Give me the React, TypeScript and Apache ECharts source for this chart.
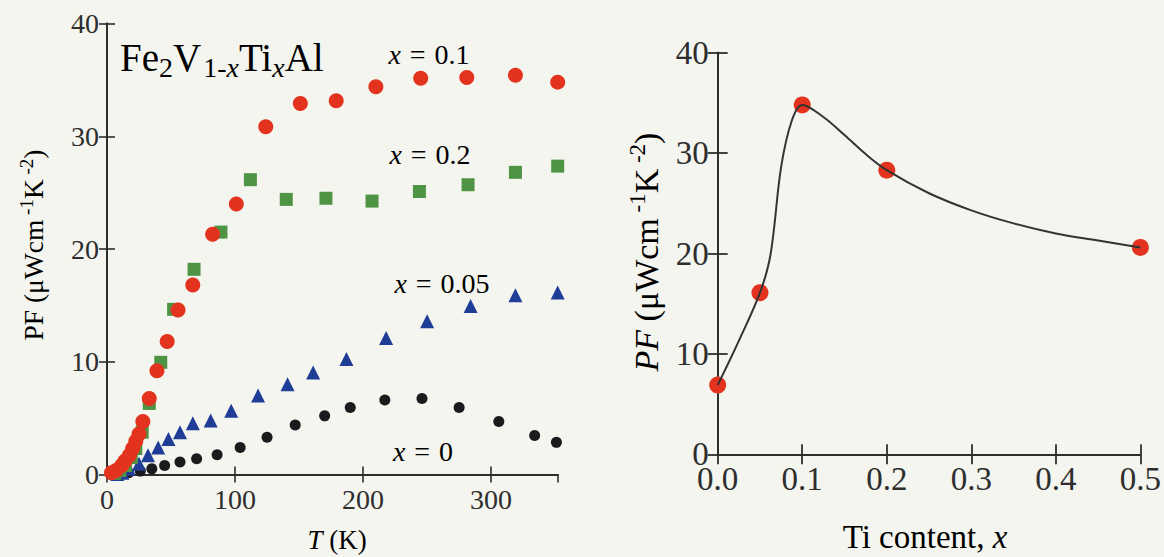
import React, { useEffect, useRef } from 'react';
import * as echarts from 'echarts';

// ---- Left panel: PF vs T for Fe2V(1-x)Ti(x)Al ----
const tempX0 = [5, 10, 17, 26, 35, 45, 57, 70, 86, 104, 125, 147, 170, 190, 217, 246, 275, 306, 334, 351];
const pfX0 = [0.02, 0.05, 0.15, 0.3, 0.5, 0.8, 1.1, 1.4, 1.75, 2.4, 3.3, 4.4, 5.2, 5.95, 6.6, 6.75, 5.95, 4.7, 3.45, 2.85];

const tempX005 = [8, 12, 17, 25, 32, 40, 48, 57, 67, 81, 97, 118, 141, 161, 187, 218, 250, 284, 319, 352];
const pfX005 = [0.05, 0.15, 0.5, 0.95, 1.7, 2.4, 3.15, 3.75, 4.55, 4.8, 5.65, 7.0, 8.0, 9.05, 10.25, 12.1, 13.6, 14.95, 15.9, 16.15];

const tempX02 = [6, 10, 14.5, 19, 22.5, 27.5, 33, 42, 52, 68, 89, 112, 140, 171, 207, 244, 282, 319, 352];
const pfX02 = [0.1, 0.35, 0.8, 1.5, 2.3, 3.75, 6.3, 9.95, 14.65, 18.2, 21.5, 26.15, 24.4, 24.5, 24.25, 25.1, 25.7, 26.8, 27.35];

const tempX01 = [3.5, 7, 11.5, 14, 17.5, 20, 22.5, 25, 28, 33, 39, 47, 55.5, 67, 82.5, 101, 124, 151, 179, 210, 245, 281, 319, 352];
const pfX01 = [0.15, 0.35, 0.8, 1.2, 1.7, 2.3, 2.95, 3.6, 4.7, 6.75, 9.2, 11.8, 14.6, 16.8, 21.3, 24.0, 30.85, 32.9, 33.15, 34.4, 35.15, 35.2, 35.4, 34.8];

const seriesLabels = ['0.1', '0.2', '0.05', '0'];

// ---- Right panel: PF vs Ti content ----
const tiContent = [0, 0.05, 0.1, 0.2, 0.5];
const pfByContent = [6.9, 16.1, 34.8, 28.3, 20.6];
const curveX = [0, 0.025, 0.05, 0.0625, 0.075, 0.0875, 0.1, 0.125, 0.15, 0.175, 0.2, 0.25, 0.3, 0.35, 0.4, 0.45, 0.5];
const curveY = [6.9, 11.3, 16.1, 19.9, 28.6, 33.2, 34.8, 33.6, 31.8, 29.9, 28.3, 26.0, 24.3, 23.0, 22.0, 21.3, 20.6];

const serif = '"Liberation Serif", "DejaVu Serif", "Times New Roman", serif';
const ink = '#2e2e2e';

const pairs = (xs: number[], ys: number[]) => xs.map((x, i) => [x, ys[i]]);

export default function App() {
  const ref = useRef<HTMLDivElement>(null);

  useEffect(() => {
    const chart = echarts.init(ref.current!, null, { renderer: 'svg' });

    const axisLine = { show: true, lineStyle: { color: ink, width: 2 } };
    const tickL = { show: true, inside: true, length: 8, lineStyle: { color: ink, width: 1.6 } };
    const tickR = { show: true, inside: true, length: 10, lineStyle: { color: ink, width: 1.8 } };
    const noLabel = { show: false };
    const noSplit = { show: false };

    const labelL = { color: ink, fontFamily: serif, fontSize: 28 };
    const labelR = { color: ink, fontFamily: serif, fontSize: 33, lineHeight: 24 };

    const supRich = (size: number, lh: number) => ({
      n: { fontFamily: serif, fontSize: size, color: ink, lineHeight: lh },
      i: { fontFamily: serif, fontSize: size, color: ink, fontStyle: 'italic', lineHeight: lh },
      sup: { fontFamily: serif, fontSize: Math.round(size * 0.68), color: ink, verticalAlign: 'top', lineHeight: Math.round(size * 0.62) },
    });

    const option: any = {
      animation: false,
      backgroundColor: '#f4f5ef',
      grid: [
        { left: 107, top: 23.5, width: 450.7, height: 451 },
        { left: 717.7, top: 52.7, width: 423.8, height: 401.6 },
      ],
      xAxis: [
        {
          gridIndex: 0, type: 'value', position: 'bottom', min: 0, max: 352, interval: 100,
          axisLine, axisTick: tickL, splitLine: noSplit,
          axisLabel: { ...labelL, margin: 11, showMaxLabel: false, formatter: (v: number) => (v % 100 === 0 ? String(v) : '') },
        },
        {
          gridIndex: 0, type: 'value', position: 'top', min: 0, max: 352, interval: 100,
          axisLine, axisTick: tickL, splitLine: noSplit, axisLabel: noLabel,
        },
        {
          gridIndex: 1, type: 'value', position: 'bottom', min: 0, max: 0.5, interval: 0.1,
          axisLine, axisTick: tickR, splitLine: noSplit,
          axisLabel: { ...labelR, margin: 13, formatter: (v: number) => v.toFixed(1) },
        },
        {
          gridIndex: 1, type: 'value', position: 'top', min: 0, max: 0.5, interval: 0.1,
          axisLine, axisTick: tickR, splitLine: noSplit, axisLabel: noLabel,
        },
      ],
      yAxis: [
        {
          gridIndex: 0, type: 'value', position: 'left', min: 0, max: 40, interval: 10,
          axisLine, axisTick: tickL, splitLine: noSplit, axisLabel: { ...labelL, margin: 8 },
        },
        {
          gridIndex: 0, type: 'value', position: 'right', min: 0, max: 40, interval: 10,
          axisLine, axisTick: tickL, splitLine: noSplit, axisLabel: noLabel,
        },
        {
          gridIndex: 1, type: 'value', position: 'left', min: 0, max: 40, interval: 10,
          axisLine, axisTick: tickR, splitLine: noSplit, axisLabel: { ...labelR, margin: 9 },
        },
        {
          gridIndex: 1, type: 'value', position: 'right', min: 0, max: 40, interval: 10,
          axisLine, axisTick: tickR, splitLine: noSplit, axisLabel: noLabel,
        },
      ],
      series: [
        {
          name: 'x = ' + seriesLabels[3], type: 'scatter', xAxisIndex: 0, yAxisIndex: 0,
          symbol: 'circle', symbolSize: 11, itemStyle: { color: '#1b1b1d', opacity: 1 },
          data: pairs(tempX0, pfX0),
        },
        {
          name: 'x = ' + seriesLabels[2], type: 'scatter', xAxisIndex: 0, yAxisIndex: 0,
          symbol: 'triangle', symbolSize: 14, itemStyle: { color: '#1f3d97', opacity: 1 },
          data: pairs(tempX005, pfX005),
        },
        {
          name: 'x = ' + seriesLabels[1], type: 'scatter', xAxisIndex: 0, yAxisIndex: 0,
          symbol: 'rect', symbolSize: 13, itemStyle: { color: '#4f9445', opacity: 1 },
          data: pairs(tempX02, pfX02),
        },
        {
          name: 'x = ' + seriesLabels[0], type: 'scatter', xAxisIndex: 0, yAxisIndex: 0,
          symbol: 'circle', symbolSize: 15, itemStyle: { color: '#e3331f', opacity: 1 },
          data: pairs(tempX01, pfX01),
        },
        {
          name: 'guide', type: 'line', xAxisIndex: 2, yAxisIndex: 2,
          smooth: 0.35, showSymbol: false, symbol: 'none',
          lineStyle: { color: '#333', width: 2 },
          data: pairs(curveX, curveY),
        },
        {
          name: 'PF', type: 'scatter', xAxisIndex: 2, yAxisIndex: 2,
          symbol: 'circle', symbolSize: 17, itemStyle: { color: '#e3331f', opacity: 1 },
          data: pairs(tiContent, pfByContent),
        },
      ],
      graphic: [
        {
          type: 'text', x: 120, y: 57,
          style: {
            text: '{m|Fe}{s|2}{m|V}{sp|1-}{si|x}{m|Ti}{si|x}{m|Al}',
            align: 'left', verticalAlign: 'middle',
            rich: {
              m: { fontFamily: serif, fontSize: 39, color: ink, lineHeight: 48 },
              s: { fontFamily: serif, fontSize: 28, color: ink, verticalAlign: 'bottom', lineHeight: 24 },
              sp: { fontFamily: serif, fontSize: 28, color: ink, verticalAlign: 'bottom', lineHeight: 24, padding: [0, 0, 0, 2] },
              si: { fontFamily: serif, fontSize: 28, color: ink, fontStyle: 'italic', verticalAlign: 'bottom', lineHeight: 24 },
            },
          },
        },
        ...[
          { t: seriesLabels[0], x: 429, y: 54 },
          { t: seriesLabels[1], x: 430, y: 154 },
          { t: seriesLabels[2], x: 442, y: 283 },
          { t: seriesLabels[3], x: 423, y: 451 },
        ].map((d) => ({
          type: 'text', x: d.x, y: d.y,
          style: {
            text: '{i|x}{e|=}{n|' + d.t + '}',
            align: 'center', verticalAlign: 'middle',
            rich: {
              n: { fontFamily: serif, fontSize: 28, color: ink },
              e: { fontFamily: serif, fontSize: 28, color: ink, padding: [0, 9, 0, 9] },
              i: { fontFamily: serif, fontSize: 28, color: ink, fontStyle: 'italic' },
            },
          },
        })),
        {
          type: 'text', x: 337, y: 540,
          style: {
            text: '{i|T}{n| (K)}', align: 'center', verticalAlign: 'middle',
            rich: {
              n: { fontFamily: serif, fontSize: 27, color: ink },
              i: { fontFamily: serif, fontSize: 27, color: ink, fontStyle: 'italic' },
            },
          },
        },
        {
          type: 'text', x: 925, y: 537,
          style: {
            text: '{n|Ti content, }{i|x}', align: 'center', verticalAlign: 'middle',
            rich: {
              n: { fontFamily: serif, fontSize: 33, color: ink },
              i: { fontFamily: serif, fontSize: 33, color: ink, fontStyle: 'italic' },
            },
          },
        },
        {
          type: 'text', x: 33, y: 245, rotation: Math.PI / 2,
          style: {
            text: '{n|PF (μWcm}{sup| -1}{n|K}{sup| -2}{n|)}', align: 'center', verticalAlign: 'middle',
            rich: supRich(27.5, 33),
          },
        },
        {
          type: 'text', x: 646, y: 252, rotation: Math.PI / 2,
          style: {
            text: '{i|PF}{n| (μWcm}{sup| -1}{n|K}{sup| -2}{n|)}', align: 'center', verticalAlign: 'middle',
            rich: supRich(34, 41),
          },
        },
      ],
    };

    chart.setOption(option);
    return () => chart.dispose();
  }, []);

  return (
    <div
      ref={ref}
      style={{ position: 'fixed', left: 0, top: 0, width: 1164, height: 557, background: '#f4f5ef' }}
    />
  );
}
